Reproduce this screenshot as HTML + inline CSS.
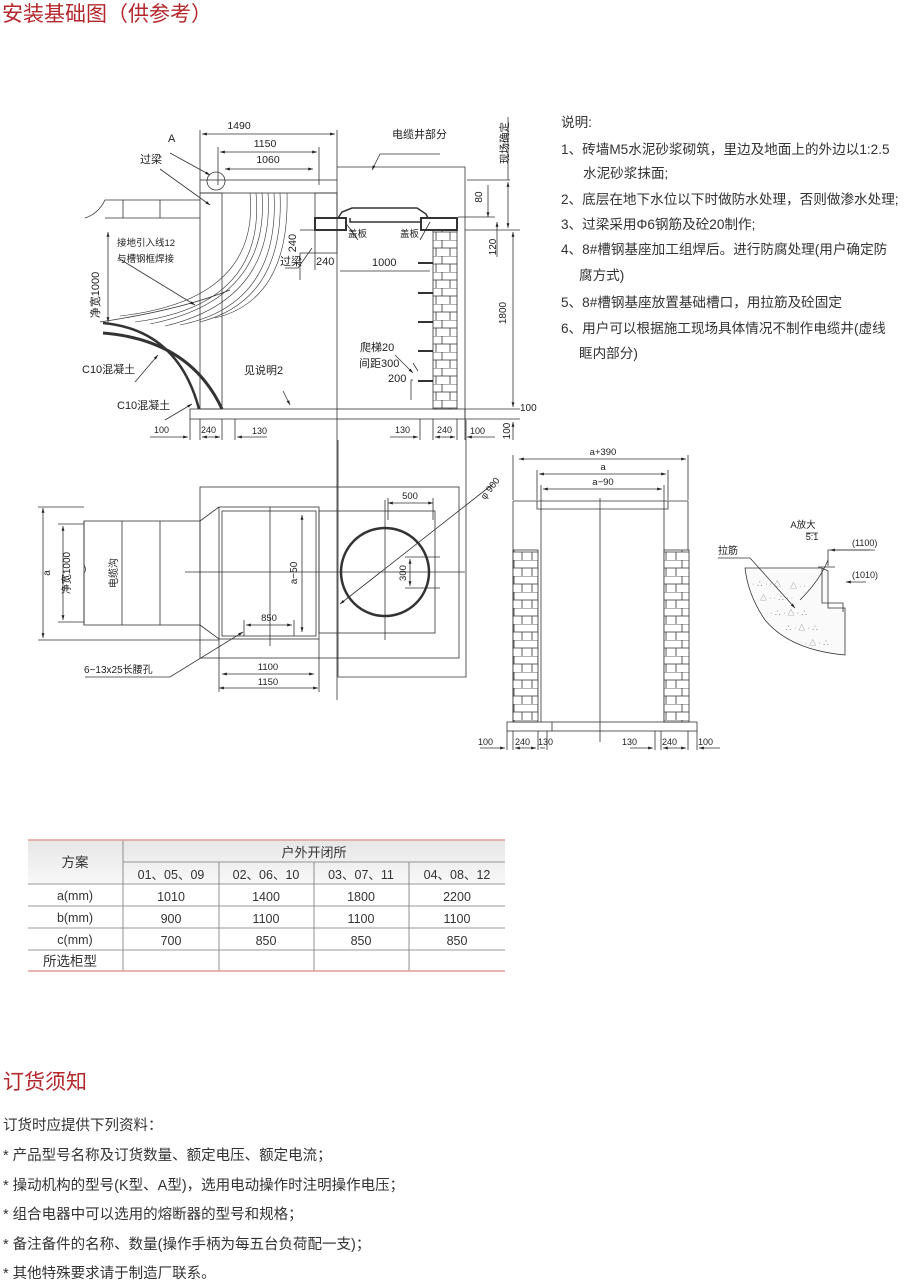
<!DOCTYPE html>
<html><head><meta charset="utf-8"><style>
body{margin:0;width:920px;height:1281px;background:#fff;overflow:hidden;font-family:"Liberation Sans","Noto Sans CJK SC",sans-serif;}
svg{position:absolute;left:0;top:0}
</style></head><body>
<svg width="920" height="1281" viewBox="0 0 920 1281" xmlns="http://www.w3.org/2000/svg" font-family="Liberation Sans, Noto Sans CJK SC, sans-serif">
<defs>
<marker id="a" viewBox="0 0 10 10" refX="10" refY="5" markerWidth="6" markerHeight="6" orient="auto-start-reverse"><path d="M0,2 L10,5 L0,8z" fill="#222"/></marker>
<pattern id="brick" width="24" height="16" patternUnits="userSpaceOnUse"><rect width="24" height="16" fill="#fff"/><path d="M0,0H24M0,8H24M10,0V8M4,8V16M18,8V16" stroke="#333" stroke-width="0.8"/></pattern>
<linearGradient id="hg" x1="0" y1="0" x2="0" y2="1"><stop offset="0" stop-color="#e6e6e6"/><stop offset="1" stop-color="#f8f8f8"/></linearGradient>
</defs>

<text x="2" y="21" font-size="21" fill="#b3282d">安装基础图（供参考）</text>

<g stroke="#333" stroke-width="0.8" fill="none">
<line x1="200" y1="130" x2="200" y2="180"/><line x1="337" y1="130" x2="337" y2="180"/>
<line x1="202" y1="134" x2="335" y2="134" marker-start="url(#a)" marker-end="url(#a)"/>
<line x1="218" y1="147" x2="218" y2="185"/><line x1="319" y1="147" x2="319" y2="185"/>
<line x1="220" y1="152" x2="317" y2="152" marker-start="url(#a)" marker-end="url(#a)"/>
<line x1="225" y1="169" x2="313" y2="169" marker-start="url(#a)" marker-end="url(#a)"/>
<rect x="200" y="180" width="137" height="13"/>
<rect x="200" y="193" width="22" height="216"/>
<rect x="315" y="193" width="22" height="60"/>
<circle cx="216" cy="181" r="9"/>
<path d="M337,167H465V420"/>
<line x1="337" y1="193" x2="337" y2="700"/>
<rect x="190" y="409" width="275" height="10"/>
<rect x="433" y="230" width="24" height="179" fill="url(#brick)"/>
<rect x="315" y="218" width="31" height="12" stroke-width="2"/>
<rect x="421" y="218" width="36" height="12" stroke-width="2"/>
<path d="M338,218 L342,212 L352,208 H417 L426,214 L428,218 H421 V222 H350 V218" stroke-width="1.5"/>
<path d="M85,218 Q98,214 105,200 H200 M123,200V218 M160,200V218 M105,218H200"/>
<path d="M103,333 Q190,340 222,409" stroke-width="3"/>
<path d="M103,323 Q178,330 199,409" stroke-width="2.5"/>
<path d="M250,193 Q260,300 120,316 M256,193 Q266,305 135,322 M262,193 Q270,300 150,324 M268,193 Q275,300 165,326 M274,193 Q280,305 180,325 M280,193 Q285,300 200,322 M287,193 Q290,300 215,318" stroke-width="0.6"/>
<path d="M100,322 Q180,310 230,290"/>
<line x1="467" y1="180" x2="510" y2="180"/><line x1="465" y1="230" x2="520" y2="230"/>
<line x1="508" y1="182" x2="508" y2="228" marker-start="url(#a)" marker-end="url(#a)"/>
<line x1="508" y1="117" x2="508" y2="180"/>
<line x1="488" y1="185" x2="488" y2="217" marker-end="url(#a)"/>
<line x1="458" y1="217" x2="495" y2="217"/>
<line x1="497" y1="257" x2="497" y2="222" marker-end="url(#a)"/>
<line x1="513" y1="232" x2="513" y2="407" marker-start="url(#a)" marker-end="url(#a)"/>
<line x1="465" y1="409" x2="520" y2="409"/><line x1="465" y1="419" x2="520" y2="419"/>
<line x1="513" y1="422" x2="513" y2="440" marker-start="url(#a)"/>
<line x1="300" y1="253" x2="300" y2="280"/><line x1="315" y1="253" x2="315" y2="270"/>
<line x1="300" y1="230" x2="315" y2="230"/><line x1="300" y1="253" x2="315" y2="253"/>
<line x1="340" y1="271" x2="430" y2="271"/>
<path d="M418,263h15M418,293h15M418,322h15M418,351h15M418,381h15" stroke-width="2"/>
<path d="M413,363l5,8M413,380h-2V400"/>
<path d="M190,419V440M200,419V440M222,419V440M235,419V440"/>
<line x1="150" y1="437" x2="188" y2="437" marker-end="url(#a)"/>
<line x1="202" y1="437" x2="220" y2="437" marker-start="url(#a)" marker-end="url(#a)"/>
<line x1="267" y1="437" x2="237" y2="437" marker-end="url(#a)"/>
<path d="M420,419V440M433,419V440M457,419V440M465,419V440"/>
<line x1="390" y1="437" x2="418" y2="437" marker-end="url(#a)"/>
<line x1="435" y1="437" x2="455" y2="437" marker-start="url(#a)" marker-end="url(#a)"/>
<line x1="495" y1="437" x2="467" y2="437" marker-end="url(#a)"/>
<path d="M170,153 L210,175" marker-end="url(#a)"/>
<path d="M160,169 L210,205" marker-end="url(#a)"/>
<path d="M118,258 L195,305" marker-end="url(#a)"/>
<line x1="108" y1="232" x2="108" y2="322" marker-start="url(#a)" marker-end="url(#a)"/>
<path d="M135,382 L158,355" marker-end="url(#a)"/>
<path d="M165,420 L192,404" marker-end="url(#a)"/>
<path d="M380,154 H440 M380,154 L372,170" marker-end="url(#a)"/>
<path d="M283,391 L290,405" marker-end="url(#a)"/>
<path d="M285,268 H298 L312,248"/>
<path d="M358,240 L345,222 M420,240 L430,222"/>
<path d="M395,355 L413,373" marker-end="url(#a)"/>

<rect x="200" y="487" width="259" height="171"/>
<path d="M338,440 V677 H466 V420"/>
<rect x="219" y="507" width="100" height="132"/>
<rect x="222" y="511" width="94" height="125"/>
<path d="M200,521 L219,507 M200,625 L219,639"/>
<rect x="84" y="521" width="116" height="104"/>
<path d="M122,521V625M160,521V625"/>
<path d="M84,521 V565 q3,5 0,8 V625"/>
<rect x="319" y="511" width="116" height="122"/>
<circle cx="385" cy="572" r="44" stroke-width="2.5"/>
<line x1="270" y1="507" x2="270" y2="646"/>
<line x1="185" y1="572" x2="465" y2="572"/>
<line x1="385" y1="500" x2="385" y2="640"/>
<line x1="340" y1="604" x2="493" y2="484" marker-start="url(#a)"/>
<line x1="302" y1="515" x2="302" y2="632" marker-start="url(#a)" marker-end="url(#a)"/>
<line x1="43" y1="508" x2="43" y2="638" marker-start="url(#a)" marker-end="url(#a)"/>
<path d="M38,507H84 M38,640H219"/>
<line x1="63" y1="526" x2="63" y2="620" marker-start="url(#a)" marker-end="url(#a)"/>
<path d="M58,524H84 M58,622H84"/>
<line x1="246" y1="625" x2="292" y2="625" marker-start="url(#a)" marker-end="url(#a)"/>
<path d="M244,620V636M294,620V636"/>
<line x1="222" y1="674" x2="314" y2="674" marker-start="url(#a)" marker-end="url(#a)"/>
<line x1="219" y1="688" x2="318" y2="688" marker-start="url(#a)" marker-end="url(#a)"/>
<path d="M219,639V692M319,639V692"/>
<line x1="388" y1="503" x2="433" y2="503" marker-start="url(#a)" marker-end="url(#a)"/>
<path d="M388,498V520M433,498V520"/>
<line x1="410" y1="559" x2="410" y2="586" marker-start="url(#a)" marker-end="url(#a)"/>
<path d="M405,557H440M405,588H440"/>
<path d="M85,677 H170 L243,632" marker-end="url(#a)"/>

<path d="M513,455V500M688,455V500M537,470V500M668,470V500M541,485V510M664,485V510"/>
<line x1="519" y1="459" x2="686" y2="459" marker-start="url(#a)" marker-end="url(#a)"/>
<line x1="539" y1="474" x2="666" y2="474" marker-start="url(#a)" marker-end="url(#a)"/>
<line x1="543" y1="489" x2="662" y2="489" marker-start="url(#a)" marker-end="url(#a)"/>
<path d="M513,501H688 M537,501V509H668V501"/>
<path d="M513,501V722M541,509V722M664,509V722M688,501V722"/>
<rect x="513" y="550" width="25" height="172" fill="url(#brick)"/>
<rect x="664" y="550" width="25" height="172" fill="url(#brick)"/>
<rect x="507" y="722" width="190" height="9"/>
<line x1="552" y1="722" x2="552" y2="731"/>
<line x1="600" y1="498" x2="600" y2="742"/>
<path d="M507,731V750M513,731V750M538,731V750M547,731V750M655,731V750M661,731V750M688,731V750M697,731V750"/>
<line x1="480" y1="748" x2="505" y2="748" marker-end="url(#a)"/>
<line x1="515" y1="748" x2="536" y2="748" marker-start="url(#a)" marker-end="url(#a)"/>
<line x1="540" y1="748" x2="545" y2="748"/>
<line x1="630" y1="748" x2="653" y2="748" marker-end="url(#a)"/>
<line x1="663" y1="748" x2="686" y2="748" marker-start="url(#a)" marker-end="url(#a)"/>
<line x1="720" y1="748" x2="699" y2="748" marker-end="url(#a)"/>

<path d="M745,568 L822,568 L828,571 V608 H845 V655 Q790,650 765,620 Q748,595 745,568Z" fill="#fafafa"/>
<path d="M822,568V603H843V612"/>
<path d="M828,560V566 M818,567H835"/>
<line x1="806" y1="533" x2="818" y2="533"/>
<path d="M875,550 H828 V560" /><line x1="870" y1="550" x2="830" y2="550" marker-end="url(#a)"/>
<line x1="866" y1="582" x2="846" y2="582" marker-end="url(#a)"/>
<path d="M718,558 H750 L795,608" marker-end="url(#a)"/>
<path d="M800,600 Q820,580 828,560"/>
</g>
<g fill="#777" font-size="7"><text x="752" y="586">· ∴ ·  · △</text><text x="760" y="600">△ · · ∴ · ·</text><text x="770" y="615">· ∴ · △ · ∴</text><text x="785" y="630">∴ · △ · ∴</text><text x="805" y="645">· △ · ∴</text><text x="790" y="588">△ · ·</text></g>

<g font-size="11" fill="#222">
<text x="239" y="129" text-anchor="middle" font-size="10.5">1490</text>
<text x="265" y="147" text-anchor="middle" font-size="10.5">1150</text>
<text x="268" y="163" text-anchor="middle" font-size="10.5">1060</text>
<text x="168" y="142">A</text>
<text x="140" y="163">过梁</text>
<text x="392" y="138">电缆井部分</text>
<text x="117" y="246" font-size="9.5">接地引入线12</text>
<text x="117" y="262" font-size="9.5">与槽钢框焊接</text>
<text x="99" y="295" transform="rotate(-90 99 295)" text-anchor="middle">净宽1000</text>
<text x="82" y="373">C10混凝土</text>
<text x="117" y="409">C10混凝土</text>
<text x="244" y="374">见说明2</text>
<text x="296" y="243" transform="rotate(-90 296 243)" text-anchor="middle">240</text>
<text x="280" y="265">过梁</text>
<text x="316" y="265">240</text>
<text x="372" y="266">1000</text>
<text x="348" y="237" font-size="9.5">盖板</text>
<text x="400" y="237" font-size="9.5">盖板</text>
<text x="360" y="351">爬梯20</text>
<text x="359" y="367">间距300</text>
<text x="388" y="382">200</text>
<text x="482" y="197" transform="rotate(-90 482 197)" text-anchor="middle" font-size="10">80</text>
<text x="496" y="247" transform="rotate(-90 496 247)" text-anchor="middle" font-size="10">120</text>
<text x="508" y="143" transform="rotate(-90 508 143)" text-anchor="middle" font-size="10.5">现场确定</text>
<text x="506" y="313" transform="rotate(-90 506 313)" text-anchor="middle" font-size="10">1800</text>
<text x="520" y="411" font-size="10">100</text>
<text x="510" y="431" transform="rotate(-90 510 431)" text-anchor="middle" font-size="10">100</text>
<g font-size="9"><text x="154" y="433">100</text><text x="201" y="433">240</text><text x="252" y="434">130</text><text x="395" y="433">130</text><text x="437" y="433">240</text><text x="470" y="434">100</text></g>
<text x="50" y="573" transform="rotate(-90 50 573)" text-anchor="middle" font-size="10">a</text>
<text x="70" y="573" transform="rotate(-90 70 573)" text-anchor="middle" font-size="10">净宽1000</text>
<text x="117" y="573" transform="rotate(-90 117 573)" text-anchor="middle" font-size="10">电缆沟</text>
<text x="297" y="573" transform="rotate(-90 297 573)" text-anchor="middle" font-size="10">a−50</text>
<text x="269" y="621" text-anchor="middle" font-size="9.5">850</text>
<text x="268" y="670" text-anchor="middle" font-size="9.5">1100</text>
<text x="268" y="685" text-anchor="middle" font-size="9.5">1150</text>
<text x="410" y="499" text-anchor="middle" font-size="9.5">500</text>
<text x="406" y="573" transform="rotate(-90 406 573)" text-anchor="middle" font-size="9.5">300</text>
<text x="485" y="500" transform="rotate(-52 485 500)" font-size="9.5">φ 900</text>
<text x="84" y="673" font-size="10">6−13x25长腰孔</text>
<text x="603" y="455" text-anchor="middle" font-size="9.5">a+390</text>
<text x="603" y="470" text-anchor="middle" font-size="9.5">a</text>
<text x="603" y="485" text-anchor="middle" font-size="9.5">a−90</text>
<g font-size="9"><text x="478" y="745">100</text><text x="515" y="745">240</text><text x="538" y="745">130</text><text x="622" y="745">130</text><text x="662" y="745">240</text><text x="698" y="745">100</text></g>
<text x="803" y="528" text-anchor="middle" font-size="9.5">A放大</text>
<text x="812" y="540" text-anchor="middle" font-size="9">5:1</text>
<text x="718" y="554" font-size="10">拉筋</text>
<text x="852" y="546" font-size="9">(1100)</text>
<text x="852" y="578" font-size="9">(1010)</text>
</g>

<g font-size="13.6" fill="#333">
<text x="561" y="127">说明:</text>
<text x="561" y="154">1、砖墙M5水泥砂浆砌筑，里边及地面上的外边以1:2.5</text>
<text x="583" y="178">水泥砂浆抹面;</text>
<text x="561" y="204">2、底层在地下水位以下时做防水处理，否则做渗水处理;</text>
<text x="561" y="229">3、过梁采用Φ6钢筋及砼20制作;</text>
<text x="561" y="254">4、8#槽钢基座加工组焊后。进行防腐处理(用户确定防</text>
<text x="579" y="280">腐方式)</text>
<text x="561" y="307">5、8#槽钢基座放置基础槽口，用拉筋及砼固定</text>
<text x="561" y="333">6、用户可以根据施工现场具体情况不制作电缆井(虚线</text>
<text x="579" y="358">眶内部分)</text>
</g>

<rect x="28" y="840" width="477" height="44" fill="url(#hg)"/>
<g stroke="#777" stroke-width="0.8">
<line x1="123" y1="862" x2="505" y2="862"/>
<line x1="28" y1="884" x2="505" y2="884"/><line x1="28" y1="906" x2="505" y2="906"/><line x1="28" y1="928" x2="505" y2="928"/><line x1="28" y1="950" x2="505" y2="950"/>
<line x1="123" y1="840" x2="123" y2="971"/>
<line x1="219" y1="862" x2="219" y2="971"/><line x1="314" y1="862" x2="314" y2="971"/><line x1="409" y1="862" x2="409" y2="971"/>
</g>
<line x1="28" y1="840" x2="505" y2="840" stroke="#e59a9a" stroke-width="1.5"/>
<line x1="28" y1="971" x2="505" y2="971" stroke="#e59a9a" stroke-width="1.5"/>
<g font-size="12.5" fill="#333" text-anchor="middle">
<text x="75" y="867" font-size="13.5">方案</text>
<text x="314" y="857" font-size="13">户外开闭所</text>
<text x="171" y="879">01、05、09</text><text x="266" y="879">02、06、10</text><text x="361" y="879">03、07、11</text><text x="457" y="879">04、08、12</text>
<text x="75" y="900">a(mm)</text><text x="171" y="901">1010</text><text x="266" y="901">1400</text><text x="361" y="901">1800</text><text x="457" y="901">2200</text>
<text x="75" y="922">b(mm)</text><text x="171" y="923">900</text><text x="266" y="923">1100</text><text x="361" y="923">1100</text><text x="457" y="923">1100</text>
<text x="75" y="944">c(mm)</text><text x="171" y="945">700</text><text x="266" y="945">850</text><text x="361" y="945">850</text><text x="457" y="945">850</text>
<text x="70" y="966" font-size="13.5">所选柜型</text>
</g>

<text x="3" y="1089" font-size="21" fill="#b3282d">订货须知</text>
<g font-size="14.5" fill="#333">
<text x="3" y="1130">订货时应提供下列资料：</text>
<text x="3" y="1160">* 产品型号名称及订货数量、额定电压、额定电流；</text>
<text x="3" y="1190">* 操动机构的型号(K型、A型)，选用电动操作时注明操作电压；</text>
<text x="3" y="1219">* 组合电器中可以选用的熔断器的型号和规格；</text>
<text x="3" y="1249">* 备注备件的名称、数量(操作手柄为每五台负荷配一支)；</text>
<text x="3" y="1278">* 其他特殊要求请于制造厂联系。</text>
</g>
</svg>
</body></html>
